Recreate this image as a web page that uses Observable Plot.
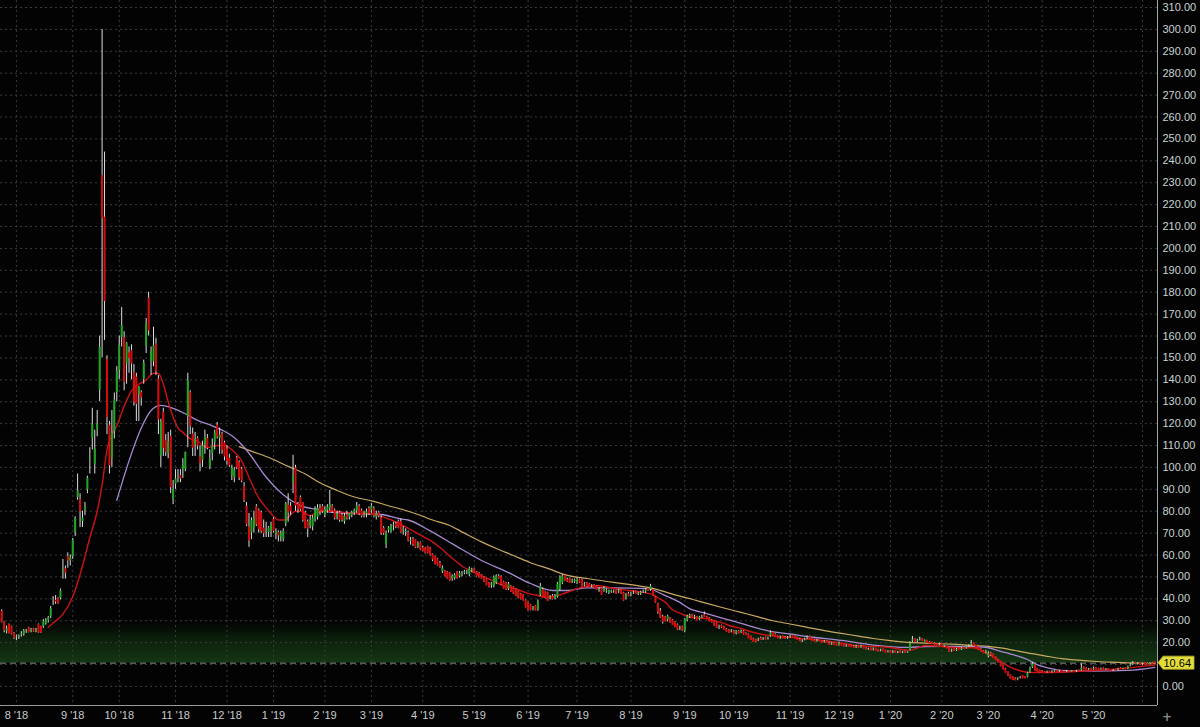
<!DOCTYPE html>
<html><head><meta charset="utf-8">
<script src="https://cdn.jsdelivr.net/npm/d3@7"></script>
<script src="https://cdn.jsdelivr.net/npm/@observablehq/plot@0.6"></script>
<style>
html,body{margin:0;padding:0;background:#030303;overflow:hidden;}
#chart svg{display:block;}
</style></head><body><div id="chart"></div>
<script>
// ---- month labels (one per month of daily candles) ----
const monthLabels = ["7 '18","8 '18","9 '18","10 '18","11 '18","12 '18","1 '19","2 '19","3 '19","4 '19","5 '19","6 '19","7 '19","8 '19","9 '19","10 '19","11 '19","12 '19","1 '20","2 '20","3 '20","4 '20","5 '20","6 '20"];
// ---- daily candles per month: [open, high, low, close] ----
const jul18 = [[34,35,29,29.5],[29,29.5,24.5,25.6],[25,27.5,24,26.5],[28,28.5,24,24.5],[27,27.5,23.5,24],[24,24.5,21.5,22.2]];
const aug18 = [[22.5,23.5,21,22.8],[22.2,23.5,21.5,23],[23.5,25,22.5,23.8],[23.5,26,23,25.6],[24.8,26,24.2,25.6],
[26.5,27,24.5,24.8],[24.8,26.5,24.5,26.2],[26,26.5,24.8,25.2],[25,26.5,24.5,26],[28,28.5,24.2,24.6],
[27,27.5,24.3,24.8],[27,30.5,26.5,29.8],[28.5,31,28,30.5],[30,32,29,31.5],[31.5,36.5,31,35.8],
[38.4,41,37,39],[39,41.5,37.5,38.8],[40,40.5,37.5,38],[40,44.5,39.5,44],[52,58,49,53.5],
[53.5,55,49,52],[59,61,54,57.5],[57,60,55,59]];
const sep18 = [[59,67.5,58,67],[70,77.5,68.5,77],[86,97,85,89.5],[85,88,72.6,80],[75,80,72.6,77],
[80,84,78,82],[89.5,96,88,95.4],[104,109,97,105],[113,127,108,120],[101,117,97,108.7],
[117,126,114,120],[135,160,130,155],[233,300,150,214],[214,244,158,176],[149,151,115,123],
[119,121,97,101],[104,126,100,116],[116,134,113,131],[134,146,130,144]];
const oct18 = [[144,160,140,156],[159,173,155,165],[159,162,135,139],[147,157,138,157],[152,155,143,150],
[153,156,140,147.5],[143,147,128,130],[141,143,121,129],[133,137,121,137],[134,135,128,132],
[140,149,138,148],[155,168,152,166],[177,180,160,162.5],[148,155,142,153],[148,164,146,156],
[156,159,142,144],[140,142,115,122],[105,122,100,121],[125,127,105,109],[112,115,105,107],
[106,116,104,112],[114,117,88,91],[85,94,83,90]];
const nov18 = [[92,99,90,95],[95,99,93,96],[96,99,93,95],[99,104,95,101],[99,107,98,107],
[123,143,109,140],[134,135,115,119],[115,118,105,109],[110,116,105,113],[113,114,108,110],
[104.6,110,98,102],[103,112,100,110],[110,117,106,114],[113,115,108,109],[100,108,99,104],
[106,113,103,110],[111,117,108,116],[119,120.5,113,114],[113,118,106,115],[115,116,106,108],
[111,112,103,105]];
const dec18 = [[108,110,101,103],[104,106,100,101],[96,101,94,100],[95,100,93,99],[104,105,99,100],
[102,103,94,95.4],[99,100,93,94],[91,93,84,85],[82,84,73,74],[72.6,79,63.5,66.7],
[70,77,67,76],[72,80,70,77],[81.7,83,73,74],[80,81,70,72],[79,80,70,71],
[72,76,68,70],[70,75,68,71],[70,73,68,72.6],[71,75,68,74]];
const jan19 = [[76,77,70,71],[69,72,67,71],[70,71,66,69],[68,71,66,70],[67,72,66,71],
[74,84,73,83.6],[82.6,88,75,79.5],[82,84,78,80],[92.7,105.5,88,96.3],[99.5,101,80,82.6],
[83,84,79,81],[86,87,80,81],[83.6,84,75,76],[79,80,72,72.6],[75,76,68,72],
[73,78,72,76],[72.6,78,71,77],[76,82,75,81],[77,83,76,81.7],[81,83,78,80],
[82,83,79,80]];
const feb19 = [[78,82,77,81],[80,83,79,82],[81,89.5,80,83.6],[82,83,79,80],[80,81,76,77],
[77,80,76,79],[79,80,75,76],[78,79,75,76],[75,79,74,78],[78,80,76,77],
[77,79,76,79],[78,80,77,79.5],[79,81,78,80.5],[80,84,79,82.6],[82,83,78,79],
[80,81,77,78],[78,80,77,79],[78.5,81,77,80],[81,82,78,79]];
const mar19 = [[80,83.6,79,82.6],[81,82,77,78],[77,80,76,79],[79,80,77,78],[76.7,78,69,70],
[72,73,69,70],[64.4,71,63,70.3],[71,73,70,72.6],[70.3,74,70,73.5],[73,75,71,74],
[74,75,72,73],[75,76,72,72.5],[75,76.5,70,70.5],[71,73,69,72],[70,72,68.5,71],
[70,71,66,66.7],[66,68,64.5,67],[67,68,64,65],[66.7,67,63,63.5],[63.5,66,63,65.5],
[65.5,66,62,62.5]];
const apr19 = [[63,64,61.5,62],[63,63.5,60.5,61],[63.5,64,60.5,61],[63,63.5,59.5,60],[60,60.5,57,58],
[59,59.5,55.5,56],[58,58.5,55,55.5],[56,57,54,54.5],[52,55,51.5,54.3],[52.5,53,50,50.5],
[52,52.5,49,49.3],[51.6,52,48,48.4],[49,51,48,50.5],[49,51.5,48.5,51],[52,52.5,49,49.5],
[50,52.5,49.5,52],[51,52.5,50,51.5],[52,53,51,52],[51.5,53,51,52],[50.7,54.5,50,54],
[52.5,54,52,53.5]];
const may19 = [[53.5,54,51.5,52],[52,52.5,50,50.5],[51.5,52,49.5,49.8],[50.5,51,49,49.3],[49.5,50,47.5,48],
[48.5,49,46,46.3],[47,47.5,45,45.5],[46,47.5,44.8,47],[45.5,50.5,45,50],[47,51,46.5,50.7],
[50,51,49,49.5],[49.8,50.5,46,46.6],[47.5,48,44.5,44.7],[47,47.5,43.8,44.2],[44.2,47.5,43.8,47],
[45.5,46,43,43.3],[45,45.5,42,42.5],[44,44.5,41.2,41.5],[43,43.5,40,40.5],[42,42.5,39.5,40],
[41.5,42,39,39.3],[39,39.5,35.8,36.2]];
const jun19 = [[38,38.5,34.5,34.8],[37,37.5,34.5,35],[35,36.5,34.5,36.2],[36.6,37,34.5,34.7],[34.7,39.5,34.3,39],
[41.5,47,41,46],[44,45,40.5,40.6],[43,43.5,40,40.5],[42.5,43,38.8,39],[40,41.5,39.5,41],
[41,42,39.5,40],[40,42,39.5,41.5],[40.6,47.5,40.3,47],[44,50.5,43.5,50],[47,51,46.5,50.7],
[50.5,51,48,48.3],[48.5,49.5,47.5,48],[49,49.5,47,47.2],[47.5,49,47,48.5],[47.5,49,47,48.8]];
const jul19 = [[47,49.5,46.5,49],[48.5,49,47,47.5],[48.4,49,45,45.2],[46,47.5,45.5,47],[47,47.5,45.5,45.8],
[46.5,47,45,45.2],[45.5,46.5,45,46],[46,46.5,44.5,44.8],[45.5,46,44,44.2],[43.5,45,43,44.5],
[44.7,45,41.5,41.8],[43.5,45.5,43,45],[43,44.5,42.5,44],[42.5,44,42,43.8],[42.8,44,42.5,43.8],
[43,44,42.5,43.5],[43.5,44,42,42.3],[43,44.5,42.5,44],[44,44.5,42,42.5],[42.5,43,39,39.3],
[40,42.5,39.5,42],[42,43,41,41.5]];
const aug19 = [[41.5,43,41,42.5],[42.5,43.5,42,43],[43,43.5,42,42.2],[42,43,41.5,42.8],[42,43.5,41.5,43],
[43,44,42.5,43.5],[43,44.5,42.5,44.3],[44.5,45,43.5,43.8],[44,46.6,43.5,46],[44,44.5,41,41.5],
[40.6,41,38,38.4],[37.5,38,33,34],[34,35.6,31,31.5],[31.5,32.5,28.5,29.5],[31.5,32,29.5,30],
[30,32.5,29.5,32.2],[31,31.5,28.8,29.2],[30,30.5,27.8,28],[29,29.5,26.8,27.2],[27.9,28.5,25.5,26],
[26.5,27.5,25.5,27],[27,27.5,25.2,25.6]];
const sep19 = [[25,31,24.5,30.8],[30,32.5,29.5,32],[31.5,33,31,32.6],[32.5,33,31,31.2],[31,32.5,30.5,32],
[31.5,32,30,30.2],[30.5,32,30,31.8],[31.5,32.5,31,32],[32.5,34,31.5,31.8],[31.5,32,30.5,30.8],
[31,31.5,29.5,29.8],[30,30.5,29,29.3],[29.8,30,27.5,27.8],[28.5,29,26.5,26.8],[27,28,26,27.5],
[27.5,28,26.5,27],[27,27.5,25.8,26],[26,26.5,24.8,25],[25.5,26,24.2,24.5],[24.8,26,24.5,25.6]];
const oct19 = [[25,25.5,23.8,24],[24,25.5,23.5,25.2],[25,25.5,24,24.3],[24.5,25.8,24.2,25.5],[25,25.5,23.5,23.8],
[24,24.5,23.2,23.5],[23.5,24,21.8,22],[22.5,23,21,21.3],[21.5,22,20,20.3],[21,21.5,20,20.5],
[21,22,20.5,21.8],[21.8,22.5,21,21.2],[21.5,22.3,21,22],[22,22.5,21.3,21.5],[21.5,22.5,21.2,22.2],
[22.8,25.3,22.5,24.7],[24.5,25,23,23.3],[23.5,24,22.3,22.5],[22.5,23,21.8,22],[22,23,21.5,22.8],
[22.8,23,21.8,22],[22.2,22.8,21.6,21.8],[21.8,22.8,21.5,22.5]];
const nov19 = [[22.5,23.5,22,23.2],[23,23.3,22,22.2],[22.5,23,21.8,22],[22,22.5,21,21.2],[21.3,22,20.5,20.6],
[20.5,21.3,20,21],[21,22,20.8,21.7],[21.6,23,21.3,22.5],[22.5,23,21.5,21.8],[21.8,22,20.8,21],
[21,21.5,20.3,20.5],[20.5,21.5,20.2,21.2],[21.2,21.5,20.4,20.6],[20.5,20.8,19.7,19.9],[20,21,19.8,20.8],
[20.5,20.8,19.6,19.8],[19.5,20.2,18.8,19],[19,20,18.8,19.8],[19.6,20,18.7,18.9],[18.9,19.3,18.3,18.5]];
const dec19 = [[18.7,20.2,18.5,20],[19.8,20,18.5,18.7],[18.8,19.2,18,18.2],[18.2,19,17.9,18.8],[18.9,19.2,18.1,18.3],
[18.4,18.8,17.8,18],[18,18.6,17.4,17.6],[17.5,18.8,17.3,18.5],[18.3,18.6,17.5,17.7],[17.6,18.8,17.4,18.4],
[18.3,18.5,17.2,17.4],[17.3,17.8,16.6,16.9],[16.8,17.5,16.5,17.3],[17.2,17.5,16.3,16.5],[16.5,17.6,16.2,17.2],
[17.2,17.4,16.2,16.4],[16.5,16.9,15.7,16],[16,17,15.8,16.8],[16.8,17,15.9,16.1],[16.2,16.5,15.3,15.5],
[15.5,16.3,15.3,16]];
const jan20 = [[16,16.4,15,15.3],[15.4,16.4,15,16.1],[16,16.2,15.2,15.4],[15.4,16,15,15.8],[15.8,16.2,15.1,15.3],
[15.3,16,15,15.8],[15.8,16.2,15.2,15.5],[15.5,16,15.1,15.6],[16.4,20.5,16.2,20],[20.5,22.8,20,21.5],
[21.5,21.8,20.2,20.4],[20.4,21.5,20,21.2],[21.3,22.5,20.8,21.8],[21.5,21.8,20.5,20.7],[20.8,21.2,20.2,20.9],
[20.8,21,19.8,20],[20,20.5,19.4,19.6],[19.8,20.2,19.3,19.5],[19.5,20,18.8,19],[19.2,19.6,18.7,18.9],
[18.9,19.8,18.6,19.5]];
const feb20 = [[19.3,19.6,18.3,18.5],[18.2,18.8,17.8,18.5],[18.4,18.6,17.2,17.4],[17.4,17.6,15.6,15.9],[16,17,15.6,16.8],
[16.9,17.2,16,16.2],[16.2,17.4,16,17.2],[17.2,17.5,16.4,16.6],[16.6,17.8,16.4,17.6],[17.6,18,17,17.2],
[17.3,18.6,17.1,18.4],[18.3,19,17.8,18.8],[18.7,21,18.5,19.8],[19.6,19.8,18.4,18.6],[18.6,18.8,17.6,17.8],
[17.8,18,16.6,16.8],[16.8,17.2,15.8,16],[16,16.4,15,15.2],[15.2,16.5,14.8,16.3]];
const mar20 = [[13.5,15.8,13,15.2],[15,15.6,13.8,14.5],[14.5,14.8,12.8,13],[13.2,13.5,11.8,12],[12,12.4,10.8,11],
[11,11.2,9,9.3],[9.4,9.8,7.6,7.8],[7.8,8.3,6.2,6.4],[6.4,6.6,4.5,4.8],[5,5.2,3.4,3.6],
[4,4.3,2.7,2.9],[3.5,4,2.6,2.9],[2.8,4,2.6,3.8],[3.6,4.5,3.4,4.2],[4.8,5,3.5,3.7],
[4.2,4.5,3.5,3.7],[4,6.5,3.9,6.3],[6.2,8.8,6,8.6],[8.4,11,8.2,10.4],[9.4,9.8,7,7.3],
[7.8,8.2,6.4,6.6],[7.2,7.4,6.2,6.5]];
const apr20 = [[6.8,7.3,6,6.2],[6.4,6.8,5.9,6.1],[6.2,7,6,6.8],[6.8,7,6.2,6.4],[6.3,7.2,6.1,7],
[6.9,7.4,6.5,7.2],[7.1,7.3,6.4,6.6],[6.6,7.3,6.4,7.1],[7,7.2,6.3,6.5],[6.6,7,6.2,6.4],
[6.4,7.2,6.3,7],[7,7.3,6.5,6.8],[6.8,7.2,6.6,7],[6.9,7.2,6.4,6.6],[6.6,7.4,6.4,7.2],
[7.2,7.5,6.8,7],[7.2,10.3,7,8.6],[8.7,9,7.6,7.8],[7.9,8.5,7.2,7.4],[7.4,8.2,7.2,8],
[8,8.3,7.4,7.6]];
const may20 = [[7.6,8.8,7.4,8.5],[8.4,8.7,7.6,7.8],[7.9,8.3,7.5,7.7],[7.7,8.4,7.5,8.2],[8.2,8.5,7.6,7.8],
[7.8,8.2,7.4,8],[7.9,8.1,7.2,7.4],[7.5,7.7,6.8,7],[7,7.8,6.9,7.6],[7.6,7.9,7.1,7.3],
[7.3,8.3,7.2,8.1],[8.2,8.6,7.7,7.9],[7.9,8.4,7.6,8.2],[8.1,8.4,7.6,7.8],[7.8,9.4,7.7,9.2],
[9.2,10.4,9,10.1],[9.9,11.4,9.6,10.8],[10.6,11,10,10.4],[10.3,10.9,9.8,10.6],[10.5,10.8,9.7,9.9]];
const jun20 = [[10,10.6,9.6,10.4],[10.5,10.8,9.8,10],[10.2,10.7,9.7,9.9],[10.1,10.9,9.8,10.2],[10.4,11,10,10.3],[11,11.2,10.4,10.64]];
const monthBars = [jul18,aug18,sep18,oct18,nov18,dec18,jan19,feb19,mar19,apr19,may19,jun19,jul19,aug19,sep19,oct19,nov19,dec19,jan20,feb20,mar20,apr20,may20,jun20];

// ---- moving averages: [trading-day index, value] ----
const redMA = [[19,27],[21,29],[25,33],[29,41],[33,55],[36,68],[39,80],[41,92],[43,108],[45,115],[47,119],[50,128],[53,135],[56,138],[59,140],[62,143],[64,143],[66,138],[68,130],[70,123],[72,118],[74,116],[77,113],[80,112],[84,109],[88,110],[91,110],[95,107],[98,103],[100,98],[102,93],[104,88],[107,83],[110,79],[113,76],[116,76],[118,78.5],[120,80],[122,80],[124,79],[126,78],[129,79.5],[132,80],[136,80],[140,79.5],[144,79],[149,79],[154,78],[158,76.5],[163,74],[168,71],[172,68.5],[176,66],[180,62.5],[184,58.5],[188,55],[192,52.5],[196,50.5],[200,48.5],[205,46],[210,44.5],[215,42.5],[219,41.5],[223,40.6],[227,41.5],[231,43],[236,45],[240,45.8],[244,46],[250,44.7],[255,44],[260,43.3],[264,42.5],[266,42],[268,40.5],[271,38.5],[274,35],[277,33.5],[279,32.5],[282,31.5],[285,31.2],[288,31],[291,30],[295,28.8],[298,27.5],[302,26.5],[305,25.3],[309,24.2],[313,23.3],[317,22.8],[322,22.4],[328,21.7],[335,21],[342,20],[349,18.7],[356,18.3],[363,17.8],[368,16.8],[371,16.6],[374,17.5],[377,18.7],[382,18.5],[388,17.8],[393,17.6],[397,17.7],[400,16.5],[403,14.8],[405,13.4],[408,11.5],[410,10],[412,8.8],[415,7.5],[419,6.5],[424,6.4],[432,6.5],[440,6.9],[446,7.3],[455,7.9],[463,8.8],[471,9.8]];
const purpleMA = [[47,85],[52,103],[57,118],[61,126],[65,128.3],[70,127],[75,124.5],[80,121.5],[86,119],[90,117],[94,114.5],[98,110.5],[102,105],[107,97],[110,93],[115,87.5],[122,82.6],[129,80.8],[135,79.5],[144,79],[155,78.5],[163,76.5],[166,76],[175,71],[185,64.5],[196,57.5],[207,52],[216,47],[225,43.8],[231,43.8],[239,45],[250,45],[264,44.7],[270,42],[277,38.4],[281,35.5],[288,33.3],[295,31],[302,28.8],[309,26.5],[315,24.9],[322,24],[329,22.8],[343,21],[356,18.9],[370,17.8],[377,18.2],[390,18.3],[401,18],[408,16],[414,14.2],[419,12.3],[423,10],[428,8.3],[433,7.3],[446,7],[460,7.3],[471,8.7]];
const yellowMA = [[97,109.5],[103,107],[108,105],[117,100.5],[124,97],[130,93],[137,89.5],[144,86.5],[152,84.5],[158,82.5],[163,81],[170,78.5],[176,76],[183,73.5],[189,70],[196,66],[203,62.5],[209,59.8],[216,56.5],[223,53.9],[231,50.7],[239,49.3],[250,47.5],[257,46.5],[264,45.2],[270,43.5],[275,41.8],[282,39.8],[288,37.9],[295,35.8],[302,33.8],[309,31.8],[315,30],[322,28.5],[329,27],[336,25.5],[343,24.2],[350,23],[356,21.9],[363,20.9],[370,20.1],[377,19.8],[384,19.5],[390,19.2],[397,18.7],[403,18.3],[408,17.6],[414,16.4],[419,15.3],[426,14],[433,12.7],[440,12],[446,11.5],[453,11.1],[460,10.8],[466,10.6],[471,10.4]];

const priceTicks = d3.range(0, 320, 10);
const bandTop = 31;

// ---- derived tables ----
const candles = monthBars.flat().map(([o,h,l,c], i) => ({i, o, h, l, c}));
const monthStart = [];
{ let acc = 0; for (const m of monthBars) { monthStart.push(acc); acc += m.length; } }
const labelOf = new Map(monthStart.map((s, k) => [s, monthLabels[k]]));
const labelTicks = monthStart.slice(1, -1);
const gridMonths = monthStart.slice(1);
const lastClose = candles[candles.length - 1].c;
const xEnd = candles.length + 0.1;
const up = candles.filter(d => d.c >= d.o);
const down = candles.filter(d => d.c < d.o);
// the last-price tag sits over the axis label closest to it
const axisTicks = priceTicks.filter(t => Math.abs(t - lastClose) > 4);

const chart = Plot.plot({
  width: 1200, height: 727,
  marginTop: 0, marginRight: 43, marginBottom: 22, marginLeft: 0,
  style: {background: "#030303", color: "#c5cfcf", fontFamily: "'Liberation Sans', Arial, sans-serif", fontSize: "11px"},
  x: {domain: [-0.5, xEnd]},
  y: {domain: [-8.7, 313.2]},
  marks: [
    Plot.rect([[lastClose, bandTop]], {x1: -0.5, x2: xEnd, y1: d => d[0], y2: d => d[1], fill: "url(#bandGrad)"}),
    Plot.ruleY(priceTicks, {stroke: "#3b3b3b", strokeDasharray: "2,3"}),
    Plot.ruleX(gridMonths, {stroke: "#3b3b3b", strokeDasharray: "2,3"}),
    Plot.ruleY([lastClose], {stroke: "#8a8a8a", strokeDasharray: "6,4"}),
    Plot.line(yellowMA, {x: d => d[0], y: d => d[1], stroke: "#c9a862", strokeWidth: 1.2, curve: "monotone-x"}),
    Plot.line(purpleMA, {x: d => d[0], y: d => d[1], stroke: "#a58ad2", strokeWidth: 1.3, curve: "monotone-x"}),
    Plot.line(redMA, {x: d => d[0], y: d => d[1], stroke: "#cc1414", strokeWidth: 1.4, curve: "monotone-x"}),
    Plot.ruleX(candles, {x: "i", y1: "l", y2: "h", stroke: "#dadede", strokeWidth: 1}),
    Plot.ruleX(up, {x: "i", y1: "o", y2: "c", stroke: "#22a524", strokeWidth: 2, insetTop: -0.6, insetBottom: -0.6}),
    Plot.ruleX(down, {x: "i", y1: "o", y2: "c", stroke: "#d80a0a", strokeWidth: 2, insetTop: -0.6, insetBottom: -0.6}),
    Plot.ruleX([xEnd], {stroke: "#a0a6a6"}),
    Plot.ruleY([-8.7], {stroke: "#9a9a9a"}),
    Plot.axisY(axisTicks, {anchor: "right", tickSize: 0, tickPadding: 5, tickFormat: d => d.toFixed(2), fill: "#c8d4d4", label: null}),
    Plot.axisX(labelTicks, {tickSize: 0, tickPadding: 6, tickFormat: s => labelOf.get(s), fill: "#c8cccc", label: null})
  ]
});
document.getElementById("chart").append(chart);

// gradient for the price band and the last-price tag
const svg = d3.select(chart);
const defs = svg.insert("defs", ":first-child");
const grad = defs.append("linearGradient").attr("id", "bandGrad").attr("x1", 0).attr("y1", 0).attr("x2", 0).attr("y2", 1);
grad.append("stop").attr("offset", "0%").attr("stop-color", "#061006").attr("stop-opacity", 0);
grad.append("stop").attr("offset", "45%").attr("stop-color", "#0b1f0b").attr("stop-opacity", 1);
grad.append("stop").attr("offset", "100%").attr("stop-color", "#143614").attr("stop-opacity", 1);

const ty = chart.scale("y").apply(lastClose);
const tx = chart.scale("x").apply(xEnd) + 1;
svg.append("path")
  .attr("d", `M${tx},${ty} L${tx + 5},${ty - 6.5} H${tx + 36} V${ty + 6.5} H${tx + 5} Z`)
  .attr("fill", "#e2dc3a").attr("stroke", "#b8b030").attr("stroke-width", 0.8);
svg.append("text").attr("x", tx + 5.5).attr("y", ty).attr("dy", "0.36em").attr("text-anchor", "start")
  .attr("fill", "#000").attr("font-size", 11).attr("font-family", "'Liberation Sans', Arial, sans-serif")
  .text(lastClose.toFixed(2));
svg.append("text").attr("x", tx + 4).attr("y", 721).attr("text-anchor", "start").attr("fill", "#8a8a8a").attr("font-size", 12)
  .attr("font-weight", "bold").attr("font-family", "'DejaVu Sans', sans-serif").text("+");
</script></body></html>
